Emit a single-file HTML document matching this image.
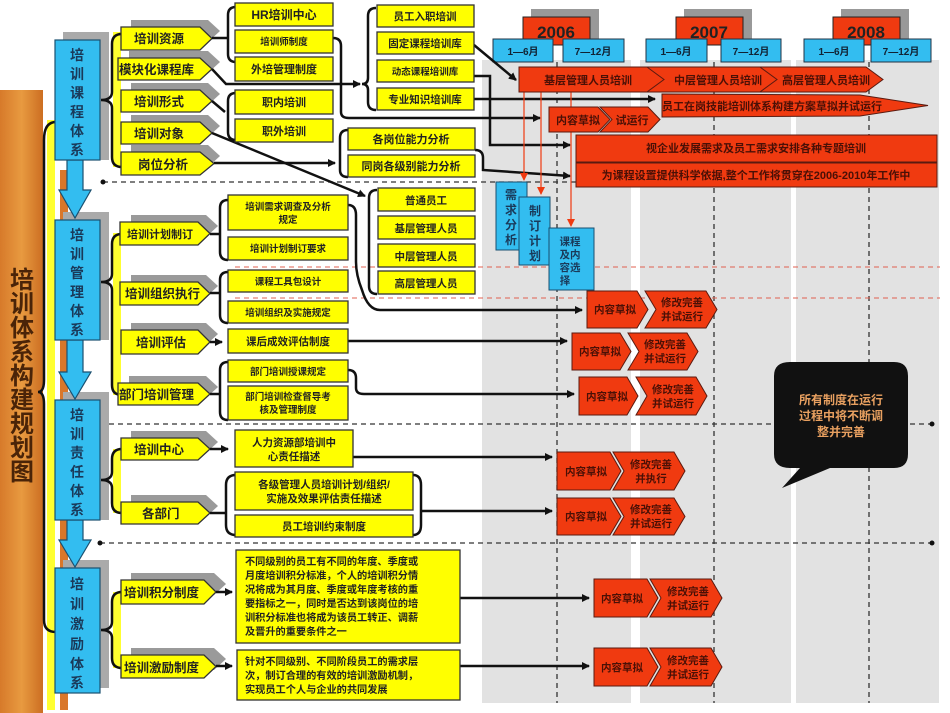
<!DOCTYPE html>
<html><head><meta charset="utf-8"><style>
html,body{margin:0;padding:0;background:#fff;}
svg{display:block;}
text{font-family:"Liberation Sans","Noto Sans CJK SC",sans-serif;font-weight:bold;}
</style></head><body>
<svg width="950" height="713" viewBox="0 0 950 713" xmlns="http://www.w3.org/2000/svg">
<defs>
<marker id="ar" markerWidth="8" markerHeight="8" refX="7" refY="4" orient="auto" markerUnits="userSpaceOnUse"><path d="M0,0 L8,4 L0,8 z" fill="#111"/></marker>
<marker id="rar" markerWidth="8" markerHeight="8" refX="7" refY="4" orient="auto" markerUnits="userSpaceOnUse"><path d="M0,0 L8,4 L0,8 z" fill="#f03a10"/></marker>
<linearGradient id="og" x1="0" x2="1"><stop offset="0" stop-color="#d77a2a"/><stop offset="0.5" stop-color="#e89a40"/><stop offset="1" stop-color="#cc6e22"/></linearGradient>
</defs>

<rect x="482" y="60" width="149" height="643" fill="#e2e2e2"/>
<rect x="640" y="60" width="151" height="643" fill="#e2e2e2"/>
<rect x="796" y="60" width="143" height="643" fill="#e2e2e2"/>
<g stroke="#333" stroke-width="1.3" stroke-dasharray="5,4">
<line x1="557" y1="62" x2="557" y2="703"/><line x1="714" y1="62" x2="714" y2="703"/><line x1="869" y1="62" x2="869" y2="703"/>
</g>
<rect x="531" y="9" width="68" height="30" fill="#999"/><rect x="523" y="17" width="67" height="28" fill="#f03a10" stroke="#222"/>
<text x="556" y="38" font-size="17" text-anchor="middle" fill="#222">2006</text>
<rect x="684" y="9" width="68" height="30" fill="#999"/><rect x="676" y="17" width="67" height="28" fill="#f03a10" stroke="#222"/>
<text x="709" y="38" font-size="17" text-anchor="middle" fill="#222">2007</text>
<rect x="841" y="9" width="68" height="30" fill="#999"/><rect x="833" y="17" width="67" height="28" fill="#f03a10" stroke="#222"/>
<text x="866" y="38" font-size="17" text-anchor="middle" fill="#222">2008</text>
<g fill="#33bdf0" stroke="#234">
<rect x="493" y="39" width="60" height="23"/><rect x="563" y="39" width="61" height="23"/>
<rect x="646" y="39" width="61" height="23"/><rect x="721" y="39" width="60" height="23"/>
<rect x="804" y="39" width="60" height="23"/><rect x="871" y="39" width="60" height="23"/>
</g>
<g font-size="10" text-anchor="middle" fill="#123">
<text x="523" y="55">1—6月</text><text x="593" y="55">7—12月</text>
<text x="676" y="55">1—6月</text><text x="751" y="55">7—12月</text>
<text x="834" y="55">1—6月</text><text x="901" y="55">7—12月</text>
</g>

<g stroke="#333" stroke-width="1.3" stroke-dasharray="5,4">
<line x1="103" y1="182" x2="940" y2="182"/>
<line x1="100" y1="424" x2="932" y2="424"/>
<line x1="100" y1="543" x2="932" y2="543"/>
</g>
<circle cx="103" cy="182" r="2.5" fill="#111"/><circle cx="100" cy="424" r="2.5" fill="#111"/><circle cx="932" cy="424" r="2.5" fill="#111"/>
<circle cx="100" cy="543" r="2.5" fill="#111"/><circle cx="932" cy="543" r="2.5" fill="#111"/>
<g stroke="#e06050" stroke-width="1" stroke-dasharray="5,4">
<line x1="235" y1="267" x2="940" y2="267"/><line x1="235" y1="298" x2="940" y2="298"/>
</g>

<rect x="0" y="90" width="43" height="623" fill="url(#og)"/>
<text font-size="24" fill="#4a2408" text-anchor="middle">
<tspan x="22" y="288">培</tspan><tspan x="22" y="312">训</tspan><tspan x="22" y="336">体</tspan><tspan x="22" y="360">系</tspan><tspan x="22" y="384">构</tspan><tspan x="22" y="408">建</tspan><tspan x="22" y="432">规</tspan><tspan x="22" y="456">划</tspan><tspan x="22" y="480">图</tspan>
</text>
<rect x="47" y="120" width="8" height="590" fill="#ffff30"/>
<rect x="60" y="170" width="8" height="540" fill="#d9772a"/>
<path d="M56,122 Q44,122 44,140 L44,380 Q44,392 38,392 Q44,392 44,404 L44,620 Q44,632 56,632" fill="none" stroke="#111" stroke-width="2.5"/>

<g fill="#aaa"><rect x="63" y="32" width="46" height="128"/><rect x="63" y="212" width="46" height="128"/><rect x="63" y="392" width="46" height="128"/><rect x="63" y="560" width="46" height="128"/></g>
<g fill="#33bdf0" stroke="#1a5070" stroke-width="1.2">
<path d="M67,160 L83,160 L83,190 L91,190 L75,218 L59,190 L67,190 z"/>
<path d="M67,340 L83,340 L83,372 L91,372 L75,399 L59,372 L67,372 z"/>
<path d="M67,520 L83,520 L83,540 L91,540 L75,567 L59,540 L67,540 z"/>
<rect x="55" y="40" width="45" height="120"/><rect x="55" y="220" width="45" height="120"/>
<rect x="55" y="400" width="45" height="120"/><rect x="55" y="568" width="45" height="125"/>
</g>
<g font-size="14" fill="#1a3a5a" text-anchor="middle" font-weight="bold">
<text x="77" y="60">培</text><text x="77" y="79">训</text><text x="77" y="98">课</text><text x="77" y="117">程</text><text x="77" y="136">体</text><text x="77" y="155">系</text>
<text x="77" y="240">培</text><text x="77" y="259">训</text><text x="77" y="278">管</text><text x="77" y="297">理</text><text x="77" y="316">体</text><text x="77" y="335">系</text>
<text x="77" y="420">培</text><text x="77" y="439">训</text><text x="77" y="458">责</text><text x="77" y="477">任</text><text x="77" y="496">体</text><text x="77" y="515">系</text>
<text x="77" y="589">培</text><text x="77" y="609">训</text><text x="77" y="629">激</text><text x="77" y="649">励</text><text x="77" y="669">体</text><text x="77" y="688">系</text>
</g>

<rect x="113" y="32" width="8" height="135" fill="#ffff30"/>
<rect x="113" y="233" width="8" height="162" fill="#ffff30"/>
<rect x="113" y="449" width="8" height="64" fill="#ffff30"/>
<rect x="113" y="592" width="8" height="76" fill="#ffff30"/>
<g fill="none" stroke="#111" stroke-width="2.5">
<path d="M122,34 Q112,34 112,44 L112,92 Q112,100 101,100 Q112,100 112,108 L112,157 Q112,167 122,167"/>
<path d="M122,234 Q112,234 112,244 L112,274 Q112,282 101,282 Q112,282 112,290 L112,385 Q112,395 122,395"/>
<path d="M122,449 Q112,449 112,459 L112,472 Q112,480 101,480 Q112,480 112,488 L112,503 Q112,513 122,513"/>
<path d="M122,592 Q112,592 112,602 L112,622 Q112,630 101,630 Q112,630 112,638 L112,658 Q112,668 122,668"/>
</g>

<g fill="#9a9a9a">
<polygon points="131,20 208,20 220,31 208,42 131,42"/>
<polygon points="129,51 208,51 220,62 208,73 129,73"/>
<polygon points="131,83 208,83 220,94 208,105 131,105"/>
<polygon points="131,115 208,115 220,126 208,137 131,137"/>
<polygon points="131,145 208,145 220,156 208,167 131,167"/>
<polygon points="131,215 206,215 218,226 206,237 131,237"/>
<polygon points="131,275 206,275 218,286 206,297 131,297"/>
<polygon points="131,323 206,323 218,334 206,345 131,345"/>
<polygon points="129,376 206,376 218,387 206,398 129,398"/>
<polygon points="131,431 206,431 218,442 206,453 131,453"/>
<polygon points="131,495 206,495 218,506 206,517 131,517"/>
<polygon points="131,573 214,573 226,584 214,595 131,595"/>
<polygon points="131,648 214,648 226,659 214,670 131,670"/>
</g>
<g fill="#ffff00" stroke="#333" stroke-width="1.3">
<polygon points="121,27 200,27 212,38.5 200,50 121,50"/>
<polygon points="118,58 200,58 212,69 200,80 118,80"/>
<polygon points="121,90 200,90 212,101 200,112 121,112"/>
<polygon points="121,122 200,122 212,133 200,144 121,144"/>
<polygon points="121,152 200,152 214,163.5 200,175 121,175"/>
<polygon points="120,222 198,222 210,233.5 198,245 120,245"/>
<polygon points="120,282 198,282 210,293.5 198,305 120,305"/>
<polygon points="121,330 198,330 210,342 198,354 121,354"/>
<polygon points="118,383 198,383 210,394 198,405 118,405"/>
<polygon points="121,438 198,438 210,449 198,460 121,460"/>
<polygon points="121,502 198,502 210,513 198,524 121,524"/>
<polygon points="121,580 204,580 216,592 204,604 121,604"/>
<polygon points="121,655 204,655 216,666.5 204,678 121,678"/>
</g>
<g font-size="12.5" fill="#222">
<text x="134" y="43">培训资源</text>
<text x="119" y="74">模块化课程库</text>
<text x="134" y="106">培训形式</text>
<text x="134" y="138">培训对象</text>
<text x="138" y="169">岗位分析</text>
<text x="127" y="238" font-size="11">培训计划制订</text>
<text x="125" y="298">培训组织执行</text>
<text x="136" y="347">培训评估</text>
<text x="119" y="399">部门培训管理</text>
<text x="134" y="454">培训中心</text>
<text x="142" y="518">各部门</text>
<text x="124" y="597">培训积分制度</text>
<text x="124" y="672">培训激励制度</text>
</g>

<g fill="none" stroke="#111" stroke-width="2.5">
<path d="M212,38 L228,38"/>
<path d="M236,7 Q228,7 228,15 L228,54 Q228,62 236,62"/>
<path d="M333,38 Q341,38 341,46 L341,112 Q341,118 349,118 L540,118" marker-end="url(#ar)"/>
<path d="M212,69 L226,84 L360,84" marker-end="url(#ar)"/>
<path d="M376,8 Q368,8 368,16 L368,78 Q368,84 362,84 Q368,84 368,90 L368,102 Q368,110 376,110"/>
<path d="M474,45 L516,80" marker-end="url(#ar)"/>
<path d="M474,99 L655,99" marker-end="url(#ar)"/>
<path d="M474,76 L490,76 L490,145 L570,145" marker-end="url(#ar)"/>
<path d="M212,101 L225,112"/>
<path d="M236,93 Q228,93 228,101 L228,132 Q228,140 236,140"/>
<path d="M212,133 L365,196" marker-end="url(#ar)"/>
<path d="M214,163 L335,163" marker-end="url(#ar)"/>
<path d="M348,130 Q340,130 340,138 L340,170 Q340,177 348,177"/>
<path d="M475,150 Q483,150 483,158 L483,170 L570,176" marker-end="url(#ar)"/>
<path d="M377,190 Q369,190 369,198 L369,286 Q369,294 377,294"/>
<path d="M210,234 L220,234"/>
<path d="M228,200 Q220,200 220,208 L220,252 Q220,260 228,260"/>
<path d="M210,293 L220,293"/>
<path d="M228,272 Q220,272 220,280 L220,315 Q220,323 228,323"/>
<path d="M348,205 Q356,205 356,215 L356,262 Q356,275 362,290 Q368,310 380,310 L582,310" marker-end="url(#ar)"/>
<path d="M210,342 L222,342" marker-end="url(#ar)"/>
<path d="M348,341 L567,341" marker-end="url(#ar)"/>
<path d="M210,394 L220,394"/>
<path d="M228,362 Q220,362 220,370 L220,412 Q220,420 228,420"/>
<path d="M348,370 Q356,370 356,378 L356,388 Q356,394 364,394 L574,394" marker-end="url(#ar)"/>
<path d="M210,449 L228,449" marker-end="url(#ar)"/>
<path d="M353,457 L552,457" marker-end="url(#ar)"/>
<path d="M210,513 L226,513"/>
<path d="M236,475 Q226,475 226,485 L226,525 Q226,535 236,535"/>
<path d="M413,475 Q421,475 421,485 L421,525 Q421,535 413,535"/>
<path d="M421,511 L552,511" marker-end="url(#ar)"/>
<path d="M216,592 L232,592" marker-end="url(#ar)"/>
<path d="M460,598 L589,598" marker-end="url(#ar)"/>
<path d="M216,666 L232,666" marker-end="url(#ar)"/>
<path d="M460,666 L589,666" marker-end="url(#ar)"/>
</g>

<g fill="#ffff00" stroke="#333" stroke-width="1.3">
<rect x="235" y="3" width="98" height="23"/><rect x="235" y="30" width="98" height="23"/><rect x="235" y="57" width="98" height="24"/>
<rect x="235" y="90" width="98" height="24"/><rect x="235" y="119" width="98" height="23"/>
<rect x="377" y="5" width="97" height="22"/><rect x="377" y="32" width="97" height="22"/><rect x="377" y="60" width="97" height="22"/><rect x="377" y="88" width="97" height="22"/>
<rect x="348" y="128" width="127" height="22"/><rect x="348" y="155" width="127" height="22"/>
<rect x="378" y="188" width="97" height="23"/><rect x="378" y="216" width="97" height="23"/><rect x="378" y="244" width="97" height="23"/><rect x="378" y="271" width="97" height="23"/>
<rect x="228" y="195" width="120" height="35"/><rect x="228" y="237" width="120" height="23"/>
<rect x="228" y="270" width="120" height="22"/><rect x="228" y="301" width="120" height="22"/>
<rect x="228" y="329" width="120" height="24"/>
<rect x="228" y="360" width="120" height="22"/><rect x="228" y="386" width="120" height="34"/>
<rect x="235" y="430" width="118" height="37"/>
<rect x="235" y="472" width="178" height="38"/><rect x="235" y="515" width="178" height="22"/>
<rect x="236" y="550" width="224" height="93"/><rect x="237" y="650" width="223" height="50"/>
</g>
<g font-size="10.5" fill="#222" text-anchor="middle">
<text x="284" y="19" font-size="12">HR培训中心</text>
<text x="284" y="45" font-size="9.5">培训师制度</text>
<text x="284" y="73" font-size="11">外培管理制度</text>
<text x="284" y="106" font-size="11">职内培训</text>
<text x="284" y="135" font-size="11">职外培训</text>
<text x="425" y="20">员工入职培训</text>
<text x="425" y="47">固定课程培训库</text>
<text x="425" y="75" font-size="9.5">动态课程培训库</text>
<text x="425" y="103">专业知识培训库</text>
<text x="411" y="143" font-size="11">各岗位能力分析</text>
<text x="411" y="170" font-size="11">同岗各级别能力分析</text>
<text x="426" y="204">普通员工</text>
<text x="426" y="232">基层管理人员</text>
<text x="426" y="260">中层管理人员</text>
<text x="426" y="287">高层管理人员</text>
<text x="288" y="210" font-size="9.5">培训需求调查及分析</text>
<text x="288" y="223" font-size="9.5">规定</text>
<text x="288" y="252" font-size="9.5">培训计划制订要求</text>
<text x="288" y="285" font-size="9.5">课程工具包设计</text>
<text x="288" y="316" font-size="9.5">培训组织及实施规定</text>
<text x="288" y="345">课后成效评估制度</text>
<text x="288" y="375" font-size="9.5">部门培训授课规定</text>
<text x="288" y="400" font-size="9.5">部门培训检查督导考</text>
<text x="288" y="413" font-size="9.5">核及管理制度</text>
<text x="294" y="446">人力资源部培训中</text>
<text x="294" y="460">心责任描述</text>
<text x="324" y="488">各级管理人员培训计划/组织/</text>
<text x="324" y="502">实施及效果评估责任描述</text>
<text x="324" y="530">员工培训约束制度</text>
</g>
<g font-size="10.2" fill="#222">
<text x="245" y="565">不同级别的员工有不同的年度、季度或</text>
<text x="245" y="579">月度培训积分标准，个人的培训积分情</text>
<text x="245" y="593">况将成为其月度、季度或年度考核的重</text>
<text x="245" y="607">要指标之一，同时是否达到该岗位的培</text>
<text x="245" y="621">训积分标准也将成为该员工转正、调薪</text>
<text x="245" y="635">及晋升的重要条件之一</text>
<text x="245" y="665">针对不同级别、不同阶段员工的需求层</text>
<text x="245" y="679">次，制订合理的有效的培训激励机制，</text>
<text x="245" y="693">实现员工个人与企业的共同发展</text>
</g>

<g stroke="#f03a10" stroke-width="1.2">
<line x1="524" y1="92" x2="524" y2="180" marker-end="url(#rar)"/>
<line x1="541" y1="92" x2="541" y2="194" marker-end="url(#rar)"/>
<line x1="571" y1="92" x2="571" y2="226" marker-end="url(#rar)"/>
</g>
<g fill="#33bdf0" stroke="#1a5070">
<rect x="496" y="182" width="31" height="68"/><rect x="519" y="197" width="31" height="68"/><rect x="549" y="228" width="45" height="62"/>
</g>
<g font-size="12" fill="#1a3a5a" text-anchor="middle">
<text x="511" y="199">需</text><text x="511" y="214">求</text><text x="511" y="229">分</text><text x="511" y="244">析</text>
<text x="535" y="215">制</text><text x="535" y="230">订</text><text x="535" y="245">计</text><text x="535" y="260">划</text>
<text x="570" y="245" font-size="10.5">课程</text><text x="570" y="258" font-size="10.5">及内</text><text x="570" y="271" font-size="10.5">容选</text><text x="565" y="284" font-size="10.5">择</text>
</g>

<g fill="#f03a10" stroke="#5a1a10" stroke-width="1">
<polygon points="519,67 650,67 667,79.5 650,92 519,92"/>
<polygon points="647,67 762,67 780,79.5 762,92 647,92 664,79.5"/>
<polygon points="760,67 866,67 883,79.5 866,92 760,92 777,79.5"/>
<polygon points="662,94 860,95 928,105.5 860,116 662,117"/>
<polygon points="549,107 598,107 610,119.5 598,132 549,132"/>
<polygon points="600,107 648,107 660,119.5 648,132 600,132 612,119.5"/>
<rect x="576" y="135" width="361" height="27"/>
<rect x="576" y="163" width="361" height="24"/>
</g>
<g font-size="11" fill="#4a1006" text-anchor="middle">
<text x="588" y="84">基层管理人员培训</text>
<text x="718" y="84">中层管理人员培训</text>
<text x="826" y="84">高层管理人员培训</text>
<text x="772" y="110">员工在岗技能培训体系构建方案草拟并试运行</text>
<text x="578" y="124">内容草拟</text>
<text x="632" y="124">试运行</text>
<text x="756" y="152">视企业发展需求及员工需求安排各种专题培训</text>
<text x="756" y="179">为课程设置提供科学依据,整个工作将贯穿在2006-2010年工作中</text>
</g>

<g fill="#f03a10" stroke="#5a1a10" stroke-width="1">
<polygon points="587,291 637,291 648,309.5 637,328 587,328"/>
<polygon points="645,291 706,291 717,309.5 706,328 645,328 656,309.5"/>
<polygon points="572,333 620,333 631,351.5 620,370 572,370"/>
<polygon points="628,333 687,333 698,351.5 687,370 628,370 639,351.5"/>
<polygon points="579,377 627,377 638,396 627,415 579,415"/>
<polygon points="636,377 696,377 707,396 696,415 636,415 647,396"/>
<polygon points="557,452 610,452 621,471 610,490 557,490"/>
<polygon points="613,452 674,452 685,471 674,490 613,490 624,471"/>
<polygon points="557,498 610,498 621,516.5 610,535 557,535"/>
<polygon points="613,498 674,498 685,516.5 674,535 613,535 624,516.5"/>
<polygon points="594,579 647,579 658,598 647,617 594,617"/>
<polygon points="650,579 711,579 722,598 711,617 650,617 661,598"/>
<polygon points="594,648 647,648 658,667 647,686 594,686"/>
<polygon points="650,648 711,648 722,667 711,686 650,686 661,667"/>
</g>
<g font-size="10.5" fill="#4a1006" text-anchor="middle">
<text x="615" y="313">内容草拟</text><text x="682" y="306">修改完善</text><text x="682" y="320">并试运行</text>
<text x="600" y="355">内容草拟</text><text x="665" y="348">修改完善</text><text x="665" y="362">并试运行</text>
<text x="607" y="400">内容草拟</text><text x="673" y="393">修改完善</text><text x="673" y="407">并试运行</text>
<text x="586" y="475">内容草拟</text><text x="651" y="468">修改完善</text><text x="651" y="482">并执行</text>
<text x="586" y="520">内容草拟</text><text x="651" y="513">修改完善</text><text x="651" y="527">并试运行</text>
<text x="622" y="602">内容草拟</text><text x="688" y="595">修改完善</text><text x="688" y="609">并试运行</text>
<text x="622" y="671">内容草拟</text><text x="688" y="664">修改完善</text><text x="688" y="678">并试运行</text>
</g>

<path d="M790,362 L894,362 Q908,362 908,376 L908,454 Q908,468 894,468 L830,468 L782,488 L800,468 L790,468 Q774,468 774,454 L774,376 Q774,362 790,362 z" fill="#111"/>
<g font-size="12" fill="#e8a060" text-anchor="middle" font-weight="normal">
<text x="841" y="404">所有制度在运行</text>
<text x="841" y="420">过程中将不断调</text>
<text x="841" y="436">整并完善</text>
</g>
</svg>
</body></html>
